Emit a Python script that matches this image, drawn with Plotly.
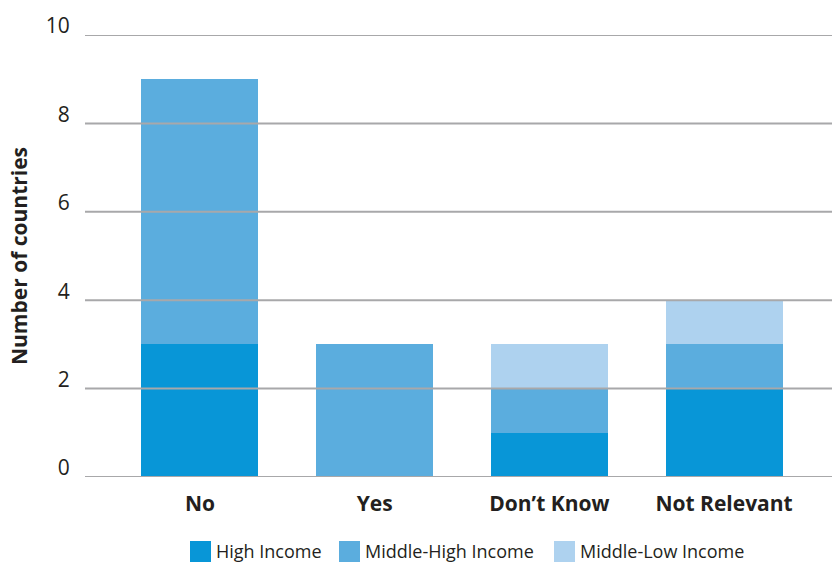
import plotly.graph_objects as go

categories = ["No", "Yes", "Don’t Know", "Not Relevant"]
high_income = [3, 0, 1, 2]
middle_high_income = [6, 3, 1, 1]
middle_low_income = [0, 0, 1, 1]
y_ticks = [0, 2, 4, 6, 8, 10]

series_names = ["High Income", "Middle-High Income", "Middle-Low Income"]
series_values = [high_income, middle_high_income, middle_low_income]
series_colors = ["#0896d7", "#5badde", "#aed2ef"]

W, H = 832, 563
L, R, T, B = 85, 0, 35, 86
PW, PH = W - L - R, H - T - B

fig = go.Figure()
for name, vals, color in zip(series_names, series_values, series_colors):
    fig.add_trace(go.Bar(
        x=list(range(len(categories))), y=vals, name=name,
        marker=dict(color=color, line=dict(width=0)),
        width=0.67, showlegend=False,
    ))

# gridlines drawn above bars, as in the reference
for t in y_ticks:
    fig.add_shape(type="line", xref="paper", yref="y", x0=0, x1=1, y0=t, y1=t,
                  line=dict(color="#a8a8aa", width=2), layer="above")

# custom legend (swatch squares + labels) below the plot
legend_x = [190, 339, 554]   # swatch left edges in pixels
sw = 21
legend_cy = 551
for name, color, lx in zip(series_names, series_colors, legend_x):
    fig.add_shape(type="rect", xref="paper", yref="paper",
                  x0=(lx - L) / PW, x1=(lx + sw - L) / PW,
                  y0=(H - B - (legend_cy - 10)) / PH, y1=(H - B - (legend_cy + 11)) / PH,
                  fillcolor=color, line=dict(width=0), layer="above")
    fig.add_annotation(xref="paper", yref="paper",
                       x=(lx + sw + 3 - L) / PW, y=(H - B - legend_cy) / PH,
                       text=name, showarrow=False, xanchor="left", yanchor="middle",
                       font=dict(size=18, family="Open Sans", color="#231f20"))

fig.update_layout(
    barmode="stack",
    width=W, height=H,
    margin=dict(l=L, r=R, t=T, b=B, autoexpand=False),
    plot_bgcolor="white", paper_bgcolor="white",
    font=dict(family="Open Sans", color="#231f20"),
    showlegend=False,
    xaxis=dict(
        range=[-0.658, 3.618], automargin=False,
        tickvals=list(range(len(categories))), ticktext=categories,
        tickfont=dict(size=21, family="Open Sans", weight="bold"),
        showgrid=False, zeroline=False, showline=False, ticks="", ticklen=0,
        ticklabelstandoff=12,
    ),
    yaxis=dict(
        range=[0, 10], tickvals=y_ticks, automargin=False,
        tickfont=dict(size=21),
        showgrid=False, zeroline=False,
        ticks="outside", ticklen=10, tickcolor="rgba(0,0,0,0)",
        ticklabelshift=-9,
        title=dict(text="<b>Number of countries</b>", font=dict(size=21), standoff=12),
    ),
)

fig.write_html("out.html", config={"displayModeBar": False},
               post_script="document.body.style.margin='0';")
